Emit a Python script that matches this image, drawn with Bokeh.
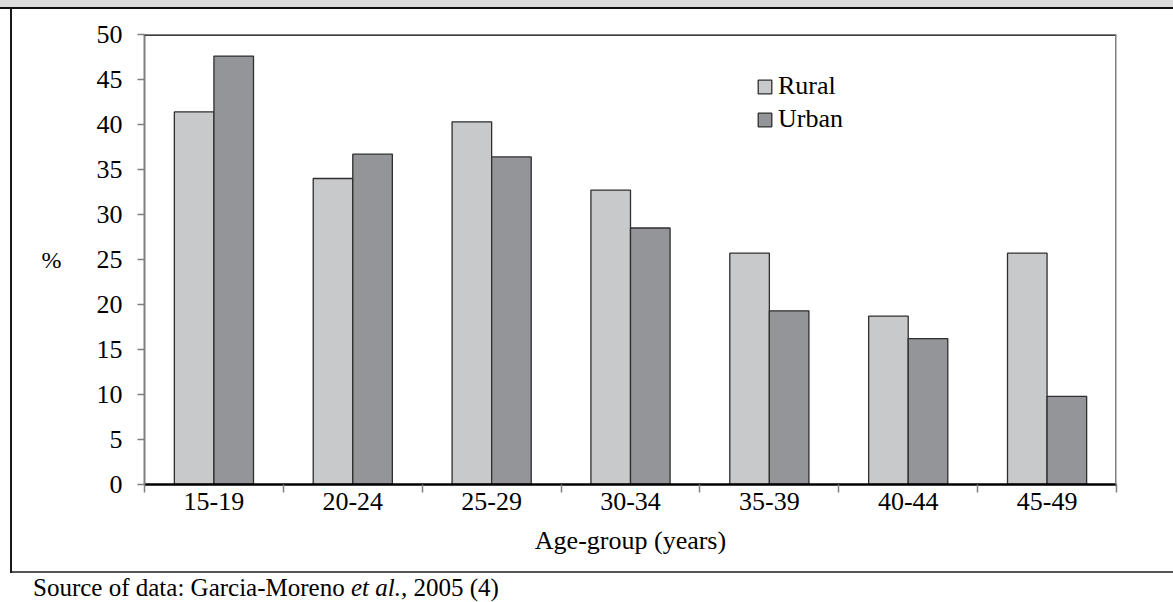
from bokeh.plotting import figure
from bokeh.layouts import column
from bokeh.models import FixedTicker, Legend, LegendItem, Span, Div
from bokeh.embed import file_html
from bokeh.resources import INLINE

# ---- data ----
categories = ["15-19", "20-24", "25-29", "30-34", "35-39", "40-44", "45-49"]
rural = [41.4, 34.0, 40.3, 32.7, 25.7, 18.7, 25.7]
urban = [47.6, 36.7, 36.4, 28.5, 19.3, 16.2, 9.8]
y_ticks = [0, 5, 10, 15, 20, 25, 30, 35, 40, 45, 50]
series_names = ["Rural", "Urban"]
x_label = "Age-group (years)"
y_label = "%"
source_html = "Source of data: Garcia-Moreno <i>et al.,</i> 2005 (4)"

# ---- styles ----
FONT = "Liberation Serif"
FS = "26px"
RURAL_C = "#c8c9cb"
URBAN_C = "#939598"
EDGE = "#2e2e2e"
GRAY = "#7f7f7f"

n = len(categories)
bw = 0.285
centers = [i + 0.5 for i in range(n)]
x_rural = [c - bw / 2 for c in centers]
x_urban = [c + bw / 2 for c in centers]

bg = ("linear-gradient(#111,#111) 0px 7px / 100% 2px no-repeat, "
      "linear-gradient(#dcdcdc,#dcdcdc) 0px 0px / 100% 7px no-repeat, "
      "linear-gradient(#1a1a1a,#1a1a1a) 10px 9px / 2px 564px no-repeat, "
      "linear-gradient(#555,#555) 10px 571px / 100% 2px no-repeat, "
      "#ffffff")

p = figure(width=1173, height=574, x_range=(0, n), y_range=(0, 50),
           output_backend="svg", toolbar_location=None,
           min_border_left=144, min_border_right=57,
           min_border_top=34, min_border_bottom=90)
p.styles = {"background": bg}
p.border_fill_color = None
p.background_fill_color = "white"
p.outline_line_color = None
p.xgrid.visible = False
p.ygrid.visible = False

r1 = p.vbar(x=x_rural, top=rural, width=bw, bottom=0, fill_color=RURAL_C,
            line_color=EDGE, line_width=1.3)
r2 = p.vbar(x=x_urban, top=urban, width=bw, bottom=0, fill_color=URBAN_C,
            line_color=EDGE, line_width=1.3)

# x axis
xa = p.xaxis[0]
xa.ticker = FixedTicker(ticks=centers, minor_ticks=list(range(n + 1)))
xa.major_label_overrides = {c: lab for c, lab in zip(centers, categories)}
xa.major_tick_out = 0
xa.major_tick_in = 0
xa.minor_tick_out = 8
xa.minor_tick_in = 0
xa.minor_tick_line_color = GRAY
xa.minor_tick_line_width = 1.5
xa.axis_line_color = "black"
xa.axis_line_width = 2.5
xa.major_label_text_font = FONT
xa.major_label_text_font_size = FS
xa.major_label_text_color = "black"
xa.major_label_standoff = 0
xa.axis_label = x_label
xa.axis_label_text_font = FONT
xa.axis_label_text_font_size = FS
xa.axis_label_text_font_style = "normal"
xa.axis_label_text_color = "black"
xa.axis_label_standoff = 13

# y axis
ya = p.yaxis[0]
ya.ticker = FixedTicker(ticks=y_ticks)
ya.minor_tick_line_color = None
ya.major_tick_out = 7
ya.major_tick_in = 0
ya.major_tick_line_color = GRAY
ya.major_tick_line_width = 1.5
ya.axis_line_color = GRAY
ya.axis_line_width = 2
ya.major_label_text_font = FONT
ya.major_label_text_font_size = FS
ya.major_label_text_color = "black"
ya.major_label_standoff = 15
ya.axis_label = y_label
ya.axis_label_orientation = "horizontal"
ya.axis_label_text_font = FONT
ya.axis_label_text_font_size = "24px"
ya.axis_label_text_font_style = "normal"
ya.axis_label_text_color = "black"
ya.axis_label_standoff = 32

# frame top and right borders
p.add_layout(Span(location=50, dimension="width", line_color="black", line_width=2.5))
p.add_layout(Span(location=n, dimension="height", line_color=GRAY, line_width=3))

# legend
legend = Legend(items=[LegendItem(label=series_names[0], renderers=[r1]),
                       LegendItem(label=series_names[1], renderers=[r2])],
                location=(612, 350), orientation="vertical",
                glyph_width=17, glyph_height=17, label_standoff=5,
                spacing=3, padding=0, margin=0,
                border_line_color=None, background_fill_alpha=0,
                label_text_font=FONT, label_text_font_size=FS,
                label_text_color="black")
p.add_layout(legend, "center")

src = Div(text=source_html, width=1173, height=28, margin=(0, 0, 0, 0),
          styles={"font-family": FONT, "font-size": "25px", "color": "black",
                  "line-height": "28px", "padding-left": "33px",
                  "white-space": "nowrap"})

layout = column(p, src, spacing=0)
open("out.html", "w").write(file_html(layout, INLINE))
